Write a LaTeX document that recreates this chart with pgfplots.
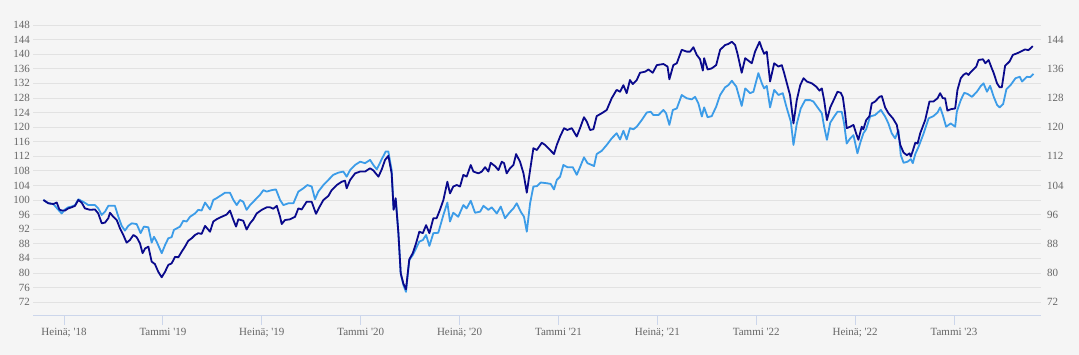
\documentclass[border=0pt]{standalone}
\usepackage{pgfplots}
\pgfplotsset{compat=1.18}
\usepackage{fontspec}
\setmainfont{Liberation Serif}
\definecolor{bg}{HTML}{F5F5F5}
\definecolor{gridc}{HTML}{E2E2E2}
\definecolor{axc}{HTML}{CCD6EB}
\definecolor{txt}{HTML}{666666}
\definecolor{darkc}{HTML}{0A0A8C}
\definecolor{lightc}{HTML}{3C9CE8}
\pgfplotstableread{
m v
-1.25 100.0
-0.95 99.1
-0.65 98.9
-0.44 99.3
-0.28 97.4
-0.14 97.1
0.06 97.1
0.26 97.7
0.47 98.0
0.67 98.4
0.87 100.0
1.07 99.3
1.27 97.7
1.58 97.3
1.88 97.4
2.08 96.3
2.29 93.6
2.49 93.8
2.69 95.0
2.79 96.5
2.99 95.4
3.20 94.5
3.40 92.2
3.60 90.4
3.80 88.3
4.00 89.0
4.21 90.4
4.41 89.8
4.61 88.1
4.77 85.4
4.92 86.7
5.12 87.2
5.32 83.1
5.52 82.4
5.72 80.3
5.93 78.8
6.13 80.3
6.33 82.2
6.53 82.6
6.74 84.4
6.94 84.3
7.14 85.8
7.34 87.2
7.54 88.8
7.75 89.5
7.95 90.4
8.15 90.9
8.35 90.7
8.56 92.9
8.86 91.3
9.06 94.1
9.26 94.7
9.57 95.4
9.87 96.0
10.07 97.1
10.28 94.5
10.44 92.7
10.58 94.7
10.88 94.3
11.08 91.9
11.29 93.6
11.49 94.7
11.69 96.3
12.00 97.3
12.30 98.0
12.50 98.0
12.70 97.6
12.91 98.4
13.11 95.4
13.21 93.4
13.41 94.5
13.71 94.7
14.02 95.4
14.22 97.7
14.42 97.4
14.72 99.5
15.03 99.5
15.29 96.2
15.49 98.0
15.74 100.0
16.04 101.1
16.24 102.7
16.55 104.1
16.85 105.0
17.05 105.3
17.15 103.2
17.36 105.5
17.66 107.3
17.97 107.8
18.27 107.8
18.57 108.7
18.77 108.1
19.08 106.4
19.28 108.4
19.48 111.0
19.68 112.1
19.88 107.3
20.00 97.3
20.12 100.5
20.29 90.9
20.43 79.9
20.59 77.1
20.75 75.5
20.95 83.7
21.16 85.4
21.36 88.1
21.56 91.3
21.77 90.9
21.97 93.1
22.17 90.9
22.41 95.0
22.61 95.0
22.81 97.3
23.02 100.0
23.26 105.0
23.42 101.8
23.62 103.7
23.83 104.1
24.03 103.7
24.23 106.9
24.43 106.4
24.68 109.6
24.84 107.8
25.15 107.3
25.35 107.8
25.55 109.0
25.75 107.8
25.89 110.2
26.15 109.3
26.36 108.2
26.56 110.5
26.70 110.1
26.86 107.3
27.06 108.7
27.27 109.6
27.43 112.6
27.67 110.5
27.88 107.3
28.08 102.0
28.28 108.2
28.48 114.2
28.69 113.7
28.99 115.7
29.19 115.1
29.45 113.9
29.73 112.6
29.90 115.1
30.10 117.4
30.34 119.7
30.54 119.2
30.81 119.7
31.11 117.4
31.31 119.7
31.55 122.7
31.72 121.5
31.92 119.2
32.12 119.4
32.32 123.0
32.63 123.8
32.93 124.7
33.23 127.9
33.53 130.2
33.74 129.7
33.94 131.5
34.14 129.3
34.34 132.9
34.51 131.8
34.75 132.9
34.95 134.9
35.26 135.2
35.46 135.8
35.72 134.9
35.97 137.0
36.37 137.3
36.62 136.6
36.73 133.1
36.97 137.0
37.18 137.5
37.48 141.2
37.78 140.7
37.99 140.7
38.19 141.9
38.39 139.8
38.59 138.6
38.76 135.5
38.84 138.9
39.05 135.8
39.30 136.1
39.57 137.0
39.81 141.2
40.11 142.5
40.31 142.8
40.52 143.4
40.72 142.5
40.86 140.2
41.12 134.9
41.33 138.9
41.53 138.2
41.73 137.5
41.93 140.7
42.20 143.4
42.34 141.6
42.48 140.1
42.64 140.7
42.84 132.5
43.09 137.5
43.35 136.6
43.55 137.0
43.69 134.9
43.86 132.0
44.05 128.8
44.26 121.0
44.46 127.4
44.67 131.5
44.87 133.4
45.07 132.5
45.37 132.0
45.64 131.1
45.84 130.0
45.98 130.6
46.12 127.4
46.29 121.9
46.49 125.4
46.72 127.6
46.93 129.7
47.13 129.4
47.25 128.3
47.39 123.8
47.49 119.7
47.70 120.1
47.90 120.6
48.06 118.3
48.20 116.5
48.40 120.1
48.50 119.4
48.67 121.9
48.87 123.0
49.01 126.5
49.21 127.0
49.48 128.3
49.62 128.5
49.82 125.4
50.02 123.8
50.29 122.4
50.53 120.6
50.74 115.1
50.94 113.0
51.14 112.3
51.30 112.8
51.38 111.9
51.50 113.5
51.65 115.7
51.79 115.5
51.95 118.3
52.25 121.9
52.51 127.0
52.75 127.0
53.00 127.9
53.16 129.3
53.32 127.9
53.46 127.9
53.60 124.5
53.80 124.9
54.07 125.1
54.21 130.2
54.41 133.4
54.57 134.3
54.74 134.8
54.88 134.3
54.98 134.9
55.15 135.7
55.35 136.6
55.49 138.4
55.76 138.6
55.90 137.5
56.10 138.4
56.25 136.6
56.41 134.8
56.61 132.0
56.77 130.9
56.90 130.9
57.10 136.8
57.37 138.0
57.57 139.8
57.81 140.2
58.05 140.7
58.31 141.3
58.52 141.1
58.78 142.2
}\darkdata
\pgfplotstableread{
m v
-1.25 100.0
-0.95 99.1
-0.65 98.9
-0.34 97.3
-0.14 96.3
0.06 97.4
0.26 98.0
0.47 98.2
0.67 98.6
0.87 100.2
1.17 99.5
1.48 98.6
1.88 98.6
2.08 97.7
2.29 95.9
2.49 96.8
2.69 98.4
3.09 98.4
3.30 95.4
3.50 92.9
3.70 91.6
3.90 92.9
4.11 93.6
4.41 93.4
4.65 90.9
4.85 92.7
5.12 92.5
5.32 88.3
5.46 89.9
5.62 88.6
5.93 85.4
6.13 87.6
6.33 89.5
6.53 89.8
6.67 91.8
6.84 92.2
7.04 92.7
7.24 94.3
7.44 94.1
7.65 95.4
7.95 96.3
8.15 97.3
8.35 97.1
8.56 99.3
8.86 97.4
9.06 100.0
9.26 100.5
9.57 101.4
9.77 102.0
10.07 102.0
10.28 100.0
10.48 98.6
10.68 100.0
10.88 99.5
11.08 97.3
11.29 98.6
11.59 100.0
11.89 101.4
12.10 102.7
12.30 102.3
12.60 102.7
12.86 102.9
13.11 100.0
13.31 98.6
13.62 99.1
13.92 99.1
14.22 102.3
14.52 103.2
14.77 104.1
15.03 103.7
15.23 100.2
15.43 102.3
15.74 104.1
16.04 105.5
16.34 106.9
16.65 107.5
16.95 107.8
17.15 106.4
17.36 108.2
17.66 109.6
17.97 110.5
18.27 110.1
18.57 111.0
18.77 109.6
18.98 108.4
19.28 111.2
19.52 113.3
19.68 113.3
19.88 108.2
20.00 97.6
20.14 100.0
20.29 90.9
20.43 79.9
20.59 76.7
20.75 74.8
20.95 83.5
21.16 84.9
21.36 86.7
21.56 88.6
21.77 89.0
21.97 90.4
22.17 87.4
22.41 90.9
22.71 91.0
23.02 95.9
23.26 99.3
23.42 94.1
23.62 96.5
23.92 95.4
24.23 98.6
24.43 97.7
24.68 99.8
24.94 96.5
25.25 96.8
25.45 98.4
25.75 97.3
25.95 98.0
26.26 96.3
26.50 98.2
26.76 95.0
27.02 96.5
27.27 97.7
27.47 99.1
27.71 96.8
27.91 95.4
28.08 91.3
28.28 99.1
28.48 103.7
28.69 103.8
28.93 104.8
29.29 104.6
29.53 104.4
29.73 102.9
29.90 105.5
30.10 106.4
30.30 109.6
30.54 109.0
30.87 109.0
31.11 106.9
31.31 109.0
31.55 111.7
31.76 110.1
32.02 109.6
32.16 109.3
32.32 112.6
32.63 113.5
32.93 115.1
33.23 116.9
33.53 118.3
33.74 116.6
33.94 119.0
34.14 116.6
34.34 119.7
34.55 119.4
34.75 120.1
35.05 121.9
35.36 124.0
35.60 124.2
35.76 123.3
36.07 123.3
36.37 124.7
36.53 123.8
36.73 120.6
36.94 124.7
37.18 125.1
37.48 128.8
37.78 127.9
38.09 127.6
38.29 128.3
38.49 126.5
38.70 122.9
38.84 125.4
39.05 122.7
39.30 123.0
39.57 125.6
39.81 128.8
40.11 130.9
40.31 131.5
40.52 132.7
40.79 131.1
41.12 125.8
41.33 130.6
41.63 129.3
41.83 129.7
42.13 134.8
42.34 132.0
42.48 130.6
42.64 131.3
42.84 125.4
43.09 130.2
43.35 128.8
43.61 129.3
43.86 125.1
44.10 121.5
44.26 115.1
44.46 120.9
44.70 125.1
44.97 127.4
45.27 127.4
45.47 127.0
45.77 125.1
45.98 123.8
46.12 120.1
46.29 116.5
46.49 121.2
46.73 122.9
46.93 124.2
47.19 124.2
47.33 121.0
47.49 115.5
47.70 116.9
47.90 117.8
48.14 112.8
48.30 115.5
48.50 118.3
48.67 119.4
48.91 122.9
49.21 123.3
49.56 124.7
49.82 122.9
50.02 121.0
50.22 118.3
50.43 116.9
50.63 119.2
50.77 112.3
50.94 110.2
51.18 110.5
51.38 111.2
51.50 110.1
51.65 112.6
51.85 114.6
52.16 118.3
52.46 122.4
52.75 123.0
53.00 124.0
53.16 125.4
53.32 123.3
53.52 120.1
53.80 121.0
54.07 120.1
54.17 124.2
54.41 127.4
54.62 129.4
54.82 129.1
55.09 128.3
55.39 129.7
55.63 131.3
55.79 132.0
56.00 129.7
56.19 131.3
56.41 128.3
56.61 126.1
56.77 125.4
56.98 126.3
57.18 130.4
57.43 131.5
57.73 133.4
57.99 133.8
58.13 132.5
58.42 133.8
58.62 133.7
58.82 134.6
}\lightdata
\begin{document}
\begin{tikzpicture}
\fill[bg] (0,0) rectangle (1079bp,355bp);
\begin{axis}[
  at={(33bp,39.3bp)}, anchor=south west,
  scale only axis, width=1008bp, height=290.7bp,
  xmin=-1.88, xmax=59.28, ymin=68.26, ymax=148,
  axis x line*=bottom, axis y line*=left,
  x axis line style={draw=axc, line width=0.8bp},
  y axis line style={draw=none},
  ytick={72,76,...,148},
  ymajorgrids, grid style={draw=gridc, line width=0.8bp},
  xtick={0,6,...,54},
  xticklabels={{Heinä; \textquotesingle18},{Tammi \textquotesingle19},{Heinä; \textquotesingle19},{Tammi \textquotesingle20},{Heinä; \textquotesingle20},{Tammi \textquotesingle21},{Heinä; \textquotesingle21},{Tammi \textquotesingle22},{Heinä; \textquotesingle22},{Tammi \textquotesingle23}},
  xtick align=outside, major tick length=9bp,
  xtick style={draw=axc, line width=0.8bp},
  ytick style={draw=none},
  tick label style={font=\fontsize{11bp}{12bp}\selectfont, text=txt},
  xticklabel style={inner sep=0pt, yshift=-3bp},
  yticklabel style={inner sep=0pt, xshift=-3bp},
  /pgf/number format/assume math mode=true,
  clip=false,
]
\addplot[draw=lightc, line width=1.8bp, line join=round, mark=none] table[x=m,y=v] {\lightdata};
\addplot[draw=darkc, line width=1.8bp, line join=round, mark=none] table[x=m,y=v] {\darkdata};
\end{axis}
\begin{axis}[
  at={(33bp,39.3bp)}, anchor=south west,
  scale only axis, width=1008bp, height=290.7bp,
  xmin=-1.88, xmax=59.28, ymin=68.26, ymax=148,
  axis x line=none, axis y line*=right,
  y axis line style={draw=none},
  ytick={72,80,...,144}, ytick style={draw=none},
  tick label style={font=\fontsize{11bp}{12bp}\selectfont, text=txt},
  yticklabel style={inner sep=0pt, xshift=6bp},
  /pgf/number format/assume math mode=true,
]
\addplot[draw=none] coordinates {(0,100)};
\end{axis}
\end{tikzpicture}
\end{document}
